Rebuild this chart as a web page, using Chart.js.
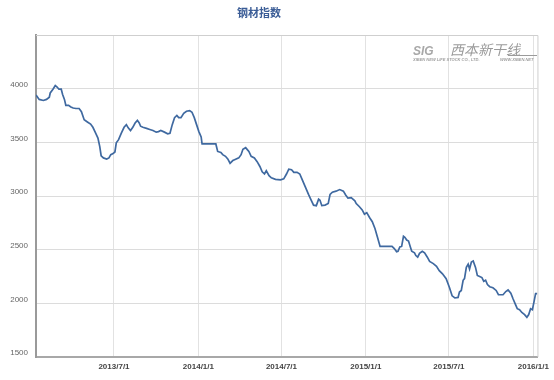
<!DOCTYPE html>
<html>
<head>
<meta charset="utf-8">
<script src="https://cdn.jsdelivr.net/npm/chart.js@4/dist/chart.umd.min.js"></script>
<style>
html,body{margin:0;padding:0;background:#fff;}
canvas{display:block;}
</style>
</head>
<body>
<canvas id="c" width="554" height="380"></canvas>
<script>
const chartTitle = '钢材指数';
const tickDates = ['2013/7/1','2014/1/1','2014/7/1','2015/1/1','2015/7/1','2016/1/1'];
const yTicks = [1500, 2000, 2500, 3000, 3500, 4000];
const dates = [
'2013-01-12','2013-01-19','2013-01-28','2013-02-04','2013-02-10','2013-02-12','2013-02-18','2013-02-23','2013-02-27','2013-03-03',
'2013-03-08','2013-03-11','2013-03-15','2013-03-18','2013-03-24','2013-03-29','2013-04-03','2013-04-09','2013-04-16','2013-04-21',
'2013-04-27','2013-05-04','2013-05-11','2013-05-16','2013-05-21','2013-05-27','2013-05-31','2013-06-03','2013-06-08','2013-06-15',
'2013-06-20','2013-06-24','2013-06-29','2013-07-03','2013-07-06','2013-07-11','2013-07-17','2013-07-23','2013-07-28','2013-08-01',
'2013-08-06','2013-08-11','2013-08-16','2013-08-21','2013-08-25','2013-08-28','2013-09-02','2013-09-10','2013-09-17','2013-09-24',
'2013-10-01','2013-10-06','2013-10-11','2013-10-19','2013-10-26','2013-10-31','2013-11-05','2013-11-10','2013-11-15','2013-11-19',
'2013-11-24','2013-11-30','2013-12-06','2013-12-13','2013-12-18','2013-12-23','2013-12-28','2014-01-02','2014-01-07','2014-01-09',
'2014-02-08','2014-02-12','2014-02-19','2014-02-23','2014-03-01','2014-03-06','2014-03-11','2014-03-17','2014-03-22','2014-03-30',
'2014-04-04','2014-04-08','2014-04-14','2014-04-18','2014-04-21','2014-04-26','2014-05-03','2014-05-09','2014-05-15','2014-05-20',
'2014-05-25','2014-05-29','2014-06-04','2014-06-09','2014-06-18','2014-06-29','2014-07-06','2014-07-12','2014-07-17','2014-07-23',
'2014-07-28','2014-08-04','2014-08-10','2014-08-15','2014-08-22','2014-08-29','2014-09-04','2014-09-09','2014-09-15','2014-09-20',
'2014-09-23','2014-09-27','2014-10-04','2014-10-11','2014-10-15','2014-10-20','2014-10-28','2014-11-05','2014-11-13','2014-11-18',
'2014-11-23','2014-11-30','2014-12-08','2014-12-11','2014-12-18','2014-12-24','2014-12-29','2015-01-03','2015-01-09','2015-01-15',
'2015-01-21','2015-01-26','2015-02-01','2015-02-27','2015-03-04','2015-03-09','2015-03-12','2015-03-16','2015-03-20','2015-03-24',
'2015-03-27','2015-03-31','2015-04-04','2015-04-08','2015-04-11','2015-04-17','2015-04-20','2015-04-24','2015-04-28','2015-05-04',
'2015-05-09','2015-05-15','2015-05-20','2015-05-28','2015-06-04','2015-06-10','2015-06-17','2015-06-25','2015-07-02','2015-07-08',
'2015-07-14','2015-07-21','2015-07-24','2015-07-28','2015-08-01','2015-08-04','2015-08-08','2015-08-12','2015-08-15','2015-08-19',
'2015-08-23','2015-08-28','2015-09-01','2015-09-06','2015-09-11','2015-09-15','2015-09-19','2015-09-23','2015-09-28','2015-10-05',
'2015-10-12','2015-10-17','2015-10-27','2015-11-02','2015-11-07','2015-11-13','2015-11-18','2015-11-23','2015-11-27','2015-12-02',
'2015-12-07','2015-12-13','2015-12-18','2015-12-22','2015-12-26','2015-12-30','2016-01-03','2016-01-06','2016-01-10'
];
const steelIndex = [
3940,3900,3890,3900,3920,3960,3995,4030,4015,3995,
3995,3945,3900,3845,3845,3830,3820,3815,3815,3785,
3710,3690,3670,3640,3595,3540,3460,3375,3355,3345,
3355,3385,3395,3410,3495,3525,3585,3640,3665,3635,
3610,3640,3680,3705,3680,3650,3640,3630,3620,3610,
3595,3600,3610,3595,3580,3585,3665,3730,3750,3730,
3730,3770,3790,3795,3780,3730,3665,3600,3550,3485,
3485,3415,3405,3385,3370,3345,3305,3330,3340,3355,
3385,3435,3450,3430,3415,3370,3355,3320,3275,3225,
3205,3235,3190,3170,3155,3150,3160,3205,3250,3245,
3220,3220,3205,3155,3085,3015,2960,2915,2910,2970,
2960,2910,2915,2930,3015,3035,3045,3060,3045,3010,
2980,2985,2955,2930,2900,2870,2830,2845,2800,2760,
2695,2620,2530,2530,2510,2480,2485,2525,2530,2625,
2615,2590,2580,2525,2485,2470,2445,2430,2465,2485,
2470,2430,2390,2370,2345,2305,2275,2230,2150,2070,
2050,2055,2105,2120,2215,2230,2335,2365,2320,2385,
2395,2335,2260,2250,2240,2205,2215,2175,2155,2145,
2120,2080,2080,2110,2125,2095,2040,1990,1950,1940,
1915,1895,1870,1895,1950,1940,2025,2090,2090
];

const EPOCH = Date.UTC(2013, 6, 1);
function dayNum(s) {
  const p = s.split(/[-\/]/).map(Number);
  return (Date.UTC(p[0], p[1] - 1, p[2]) - EPOCH) / 86400000;
}
const points = dates.map((d, i) => ({ x: dayNum(d), y: steelIndex[i] }));
const tickDays = tickDates.map(dayNum);

const decor = {
  id: 'decor',
  beforeDraw(chart) {
    const ctx = chart.ctx;
    ctx.save();
    ctx.fillStyle = '#fff';
    ctx.fillRect(0, 0, chart.width, chart.height);
    ctx.restore();
  },
  afterDraw(chart) {
    const ctx = chart.ctx, a = chart.chartArea;
    ctx.save();
    // top and right frame
    ctx.strokeStyle = '#cfcfcf';
    ctx.lineWidth = 1;
    ctx.beginPath();
    ctx.moveTo(a.left, a.top + 0.5);
    ctx.lineTo(a.right + 0.5, a.top + 0.5);
    ctx.lineTo(a.right + 0.5, a.bottom);
    ctx.stroke();
    // title
    ctx.fillStyle = '#3a5c96';
    ctx.font = 'bold 11px "Noto Sans CJK SC"';
    ctx.textAlign = 'center';
    ctx.textBaseline = 'middle';
    ctx.fillText(chartTitle, 259, 13);
    // watermark logo
    ctx.fillStyle = '#a8a8a8';
    ctx.font = 'bold italic 12px "Liberation Sans"';
    ctx.textAlign = 'left';
    ctx.textBaseline = 'alphabetic';
    ctx.fillText('SIG', 413, 55);
    ctx.font = 'italic 14px "Noto Sans CJK SC"';
    ctx.fillStyle = '#9a9a9a';
    ctx.fillText('西本新干线', 450, 55);
    ctx.strokeStyle = '#9a9a9a';
    ctx.beginPath();
    ctx.moveTo(508, 55.5);
    ctx.lineTo(537, 55.5);
    ctx.stroke();
    ctx.font = 'italic bold 4px "Liberation Sans"';
    ctx.fillStyle = '#a0a0a0';
    ctx.fillText('XIBEN NEW LIFE STOCK CO., LTD.', 413, 61);
    ctx.fillText('WWW.XIBEN.NET', 500, 61);
    ctx.restore();
  }
};

new Chart(document.getElementById('c'), {
  type: 'line',
  data: {
    datasets: [{
      data: points,
      borderColor: '#3f69a0',
      borderWidth: 1.7,
      pointRadius: 0,
      tension: 0,
      fill: false
    }]
  },
  options: {
    responsive: false,
    animation: false,
    devicePixelRatio: 1,
    layout: { padding: { top: 35, right: 14, left: 0, bottom: 0 } },
    plugins: { legend: { display: false }, tooltip: { enabled: false }, title: { display: false } },
    scales: {
      x: {
        type: 'linear',
        min: points[0].x,
        max: points[points.length - 1].x,
        afterBuildTicks(scale) { scale.ticks = tickDays.map(v => ({ value: v })); },
        afterFit(scale) { scale.height = 23; },
        grid: { color: '#e2e2e2', drawTicks: false },
        border: { color: '#a8a8a8', width: 2 },
        ticks: {
          autoSkip: false,
          maxRotation: 0,
          padding: 5,
          color: '#444',
          font: { family: 'Liberation Sans', size: 8, weight: 'bold' },
          callback(v, i) { return tickDates[i]; }
        }
      },
      y: {
        min: 1500,
        max: 4500,
        afterBuildTicks(scale) { scale.ticks = yTicks.map(v => ({ value: v })); },
        afterFit(scale) { scale.width = 36; },
        grid: { color: '#dcdcdc', drawTicks: false },
        border: { color: '#9a9a9a', width: 2 },
        ticks: {
          padding: 8,
          labelOffset: -4,
          color: '#666',
          font: { family: 'Liberation Sans', size: 8 },
          callback(v) { return String(v); }
        }
      }
    }
  },
  plugins: [decor]
});
</script>
</body>
</html>
